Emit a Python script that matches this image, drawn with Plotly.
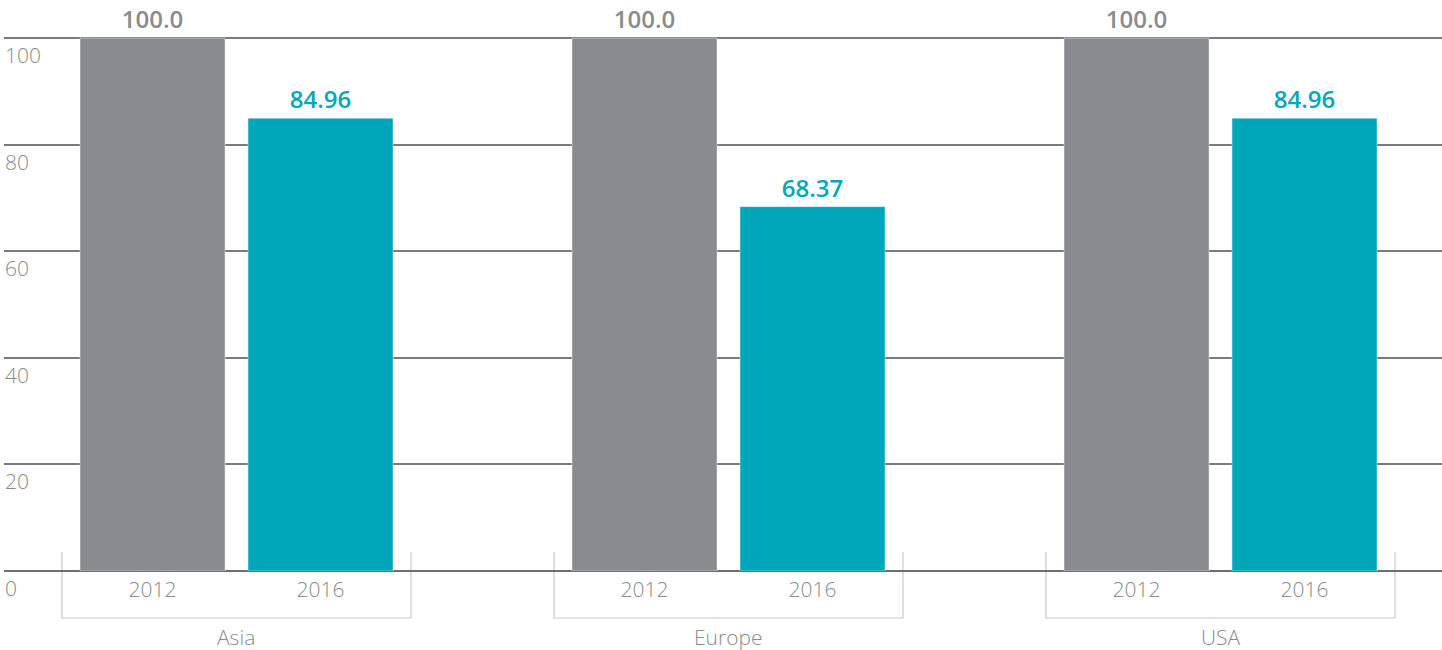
import plotly.graph_objects as go

regions = ["Asia", "Europe", "USA"]
years = ["2012", "2016"]
values_2012 = [100.0, 100.0, 100.0]
values_2016 = [84.96, 68.37, 84.96]
labels_2012 = ["100.0", "100.0", "100.0"]
labels_2016 = ["84.96", "68.37", "84.96"]
y_ticks = [0, 20, 40, 60, 80, 100]

GRAY = "#898b8e"
TEAL = "#00a7ba"
TXT = "#898a8c"
FONT = "Open Sans"

px_per_group = 492.0
slot = 168 / px_per_group
bar_w = 145 / px_per_group
br_half = 174.5 / px_per_group
x_range = [(4 - 236.5) / px_per_group, (1442 - 236.5) / px_per_group]

def to_paper(x):
    return (x - x_range[0]) / (x_range[1] - x_range[0])

idx = list(range(len(regions)))
x12 = [i - slot / 2 for i in idx]
x16 = [i + slot / 2 for i in idx]

fig = go.Figure()
fig.add_trace(go.Bar(x=x12, y=values_2012, width=bar_w, marker_color=GRAY,
                     text=labels_2012, textposition="outside", cliponaxis=False,
                     textfont=dict(family=FONT, size=24, color=GRAY, weight=600),
                     name="2012", hoverinfo="skip"))
fig.add_trace(go.Bar(x=x16, y=values_2016, width=bar_w, marker_color=TEAL,
                     text=labels_2016, textposition="outside", cliponaxis=False,
                     textfont=dict(family=FONT, size=24, color=TEAL, weight=600),
                     name="2016", hoverinfo="skip"))

tickvals = []
ticktext = []
for i in idx:
    tickvals += [x12[i], x16[i]]
    ticktext += years

plot_h = 650 - 37 - 79
y_top = 100.2

annotations = []
for t in y_ticks:
    annotations.append(dict(xref="paper", yref="y", x=0, y=t, text=str(t),
                            xanchor="left", yanchor="top", showarrow=False,
                            yshift=-1, xshift=-1,
                            font=dict(family=FONT, size=21, color=TXT, weight=300)))
shapes = []
br_top = 19 / plot_h
br_bot = -47 / plot_h
for i, r in enumerate(regions):
    annotations.append(dict(xref="paper", yref="paper", x=to_paper(i), y=-66 / plot_h,
                            text=r, xanchor="center", yanchor="middle", showarrow=False,
                            font=dict(family=FONT, size=21, color=TXT, weight=300)))
    xa = to_paper(i - br_half)
    xb = to_paper(i + br_half)
    shapes.append(dict(type="path", xref="paper", yref="paper",
                       path=f"M {xa},{br_top} L {xa},{br_bot} L {xb},{br_bot} L {xb},{br_top}",
                       line=dict(color="#c8c8c8", width=1.2), layer="below"))

fig.update_layout(
    width=1442, height=650,
    margin=dict(l=4, r=0, t=37, b=79),
    paper_bgcolor="white", plot_bgcolor="white",
    showlegend=False, barmode="overlay",
    xaxis=dict(range=x_range, tickvals=tickvals, ticktext=ticktext,
               showgrid=False, zeroline=False, showline=False, ticks="",
               ticklabelstandoff=4,
               tickfont=dict(family=FONT, size=21, color=TXT, weight=300)),
    yaxis=dict(range=[0, y_top], tickvals=y_ticks, showticklabels=False,
               showgrid=True, gridcolor="#7a7b7e", gridwidth=1.5,
               zeroline=True, zerolinecolor="#6d6e71", zerolinewidth=1.5,
               showline=False, ticks=""),
    annotations=annotations, shapes=shapes,
)

fig.write_html("out.html", config={"displayModeBar": False},
               post_script="document.body.style.margin='0';")
